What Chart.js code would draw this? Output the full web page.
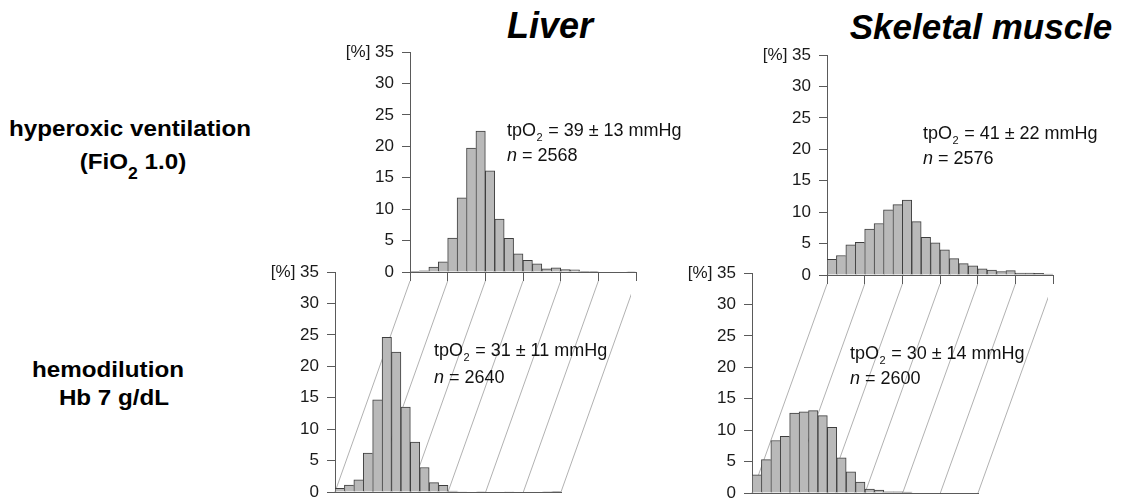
<!DOCTYPE html>
<html>
<head>
<meta charset="utf-8">
<script src="https://cdn.jsdelivr.net/npm/chart.js@4/dist/chart.umd.min.js"></script>
<style>
  html, body { margin: 0; padding: 0; background: #fff; }
  #fig { position: relative; width: 1126px; height: 498px; overflow: hidden;
         font-family: "Liberation Sans", Arial, Helvetica, sans-serif; }
  .panel { position: absolute; }
  .panel canvas { display: block; }
  .lbl { position: absolute; color: #000; font-weight: bold; white-space: nowrap;
         text-align: center; line-height: 1; width: 400px; }
  .title { font-style: italic; }
  .row { transform: scaleX(1.1); transform-origin: 50% 50%; }
  .sub { position: relative; top: 10px; font-size: 16px; }
</style>
</head>
<body>
<div id="fig">
  <div class="lbl title" style="left:350px; top:8px; font-size:36px;">Liver</div>
  <div class="lbl title" style="left:781px; top:9px; font-size:35px;">Skeletal muscle</div>
  <div class="lbl row" style="left:-70px; top:118px; font-size:22px;">hyperoxic ventilation</div>
  <div class="lbl row" style="left:-67px; top:151px; font-size:22px;">(FiO<span class="sub">2</span> 1.0)</div>
  <div class="lbl row" style="left:-92px; top:359px; font-size:22px;">hemodilution</div>
  <div class="lbl row" style="left:-86px; top:387px; font-size:22px;">Hb 7 g/dL</div>
</div>
<script>
// tpO2 histograms, 5 mmHg bins from 0 to 120 mmHg (relative frequency in %)
const binLow = [0, 5, 10, 15, 20, 25, 30, 35, 40, 45, 50, 55,
                60, 65, 70, 75, 80, 85, 90, 95, 100, 105, 110, 115];
const binWidth = 5;

const liverHyperoxic  = [0.1, 0.2, 0.8, 1.6, 5.4, 11.8, 19.7, 22.4, 16.1, 8.4, 5.35, 2.9,
                         1.85, 1.3, 0.5, 0.65, 0.4, 0.35, 0.12, 0.12, 0, 0, 0, 0.08];
const muscleHyperoxic = [2.5, 3.1, 4.8, 5.2, 7.3, 8.2, 10.35, 11.2, 11.9, 8.5, 6.0, 5.1,
                         4.0, 2.6, 1.8, 1.45, 1.0, 0.78, 0.55, 0.7, 0.3, 0.3, 0.25, 0.15];
const liverHemodil    = [0.6, 1.1, 1.95, 6.2, 14.65, 24.6, 22.25, 13.5, 7.95, 3.9, 1.5, 1.05,
                         0.15, 0.04, 0.06, 0.08, 0, 0, 0.05, 0, 0, 0, 0.08, 0.1];
const muscleHemodil   = [2.9, 5.3, 8.35, 9.0, 12.7, 12.9, 13.1, 12.3, 10.45, 5.6, 3.35, 1.75,
                         0.62, 0.47, 0.2, 0.18, 0.13, 0, 0, 0, 0, 0, 0, 0];

const yTicks = [0, 5, 10, 15, 20, 25, 30, 35];
const xTicks = [0, 20, 40, 60, 80, 100, 120];

// summary statistics: mean ± SD (mmHg) and number of readings
const statMean = [39, 41, 31, 30];
const statSD   = [13, 22, 11, 14];
const statN    = [2568, 2576, 2640, 2600];

const FONT = '"Liberation Sans", Arial, Helvetica, sans-serif';
const AXIS = '#5a5a5a';
const PAD_L = 80, PAD_T = 22, PAD_R = 70, PAD_B = 22;
const X_TICK = 9;

const fig = document.getElementById('fig');

function borderFor(ctx) {
  const d = ctx.dataset.data, i = ctx.dataIndex;
  const cur = d[i].y, next = i + 1 < d.length ? d[i + 1].y : 0;
  return { top: 1, left: 1, bottom: 0, right: next < cur ? 1 : 0 };
}

function drawStats(chart, k, o) {
  const { ctx, chartArea: a } = chart;
  ctx.save();
  ctx.fillStyle = '#111';
  ctx.textBaseline = 'alphabetic';
  ctx.textAlign = 'left';
  let x = a.left + o.dx;
  const y1 = a.top + o.b1, y2 = a.top + o.b2;
  ctx.font = '18px ' + FONT;
  ctx.fillText('tpO', x, y1);
  x += ctx.measureText('tpO').width;
  ctx.font = '11px ' + FONT;
  ctx.fillText('2', x + 0.5, y1 + 5);
  x += ctx.measureText('2').width + 1;
  ctx.font = '18px ' + FONT;
  ctx.fillText(' = ' + statMean[k] + ' \u00b1 ' + statSD[k] + ' mmHg', x, y1);
  x = a.left + o.dx;
  ctx.font = 'italic 18px ' + FONT;
  ctx.fillText('n', x, y2);
  x += ctx.measureText('n').width;
  ctx.font = '18px ' + FONT;
  ctx.fillText(' = ' + statN[k], x, y2);
  ctx.restore();
}

function makePanel(geo, values, k, textPos, upper) {
  const wrap = document.createElement('div');
  wrap.className = 'panel';
  const cw = geo.w + PAD_L + PAD_R, ch = geo.h + PAD_T + PAD_B;
  wrap.style.left = (geo.x - PAD_L) + 'px';
  wrap.style.top = (geo.y - PAD_T) + 'px';
  const cv = document.createElement('canvas');
  cv.width = cw; cv.height = ch;
  cv.style.width = cw + 'px'; cv.style.height = ch + 'px';
  wrap.appendChild(cv);
  fig.appendChild(wrap);

  const plugins = [{
    id: 'stats',
    afterDatasetsDraw(chart) { drawStats(chart, k, textPos); }
  }];

  // perspective guides joining the x ticks of the upper panel to this one
  if (upper) {
    plugins.push({
      id: 'guides',
      beforeDatasetsDraw(chart) {
        const top = upper.chart;
        const dx = upper.left - (geo.x - PAD_L);
        const dy = upper.top - (geo.y - PAD_T);
        const sx = top.scales.x, bx = chart.scales.x;
        const ctx = chart.ctx;
        ctx.save();
        ctx.strokeStyle = '#a8a8a8';
        ctx.lineWidth = 0.9;
        xTicks.forEach(v => {
          ctx.beginPath();
          ctx.moveTo(sx.getPixelForValue(v) + dx, sx.top + X_TICK + dy);
          ctx.lineTo(bx.getPixelForValue(v), bx.top);
          ctx.stroke();
        });
        ctx.restore();
      }
    });
  }

  const chart = new Chart(cv, {
    type: 'bar',
    data: {
      datasets: [{
        data: binLow.map((b, i) => ({ x: b + binWidth / 2, y: values[i] })),
        backgroundColor: '#b9b9b9',
        borderColor: '#3e3e3e',
        borderWidth: borderFor,
        borderSkipped: 'start',
        barPercentage: 1,
        categoryPercentage: 1
      }]
    },
    options: {
      responsive: false,
      animation: false,
      events: [],
      layout: { padding: { left: 0, top: PAD_T, right: PAD_R, bottom: 0 } },
      plugins: { legend: { display: false }, tooltip: { enabled: false }, title: { display: false } },
      scales: {
        x: {
          type: 'linear', min: 0, max: 120, offset: false,
          afterBuildTicks: s => { s.ticks = xTicks.map(v => ({ value: v })); },
          ticks: { display: false },
          grid: { offset: false, drawOnChartArea: false, drawTicks: !upper, tickLength: X_TICK, color: AXIS, lineWidth: 1 },
          border: { display: true, color: AXIS, width: 1 },
          afterFit: s => { s.height = PAD_B; }
        },
        y: {
          min: 0, max: 35,
          afterBuildTicks: s => { s.ticks = yTicks.map(v => ({ value: v })); },
          ticks: {
            font: { size: 17, family: FONT },
            color: '#1a1a1a',
            padding: 8,
            callback: v => (v === 35 ? '[%] 35' : String(v))
          },
          grid: { drawOnChartArea: false, drawTicks: true, tickLength: 8, color: AXIS, lineWidth: 1 },
          border: { display: true, color: AXIS, width: 1 },
          afterFit: s => { s.width = PAD_L; }
        }
      }
    },
    plugins
  });
  return { chart, left: geo.x - PAD_L, top: geo.y - PAD_T };
}

const liverTop  = makePanel({ x: 410, y: 52,  w: 226, h: 220 }, liverHyperoxic,  0, { dx: 97, b1: 84, b2: 109 }, null);
const muscleTop = makePanel({ x: 827, y: 55,  w: 226, h: 220 }, muscleHyperoxic, 1, { dx: 96, b1: 84, b2: 109 }, null);
makePanel({ x: 335, y: 272, w: 226, h: 220 }, liverHemodil,  2, { dx: 99, b1: 84, b2: 111 }, liverTop);
makePanel({ x: 752, y: 273, w: 226, h: 220 }, muscleHemodil, 3, { dx: 98, b1: 86, b2: 111 }, muscleTop);
</script>
</body>
</html>
